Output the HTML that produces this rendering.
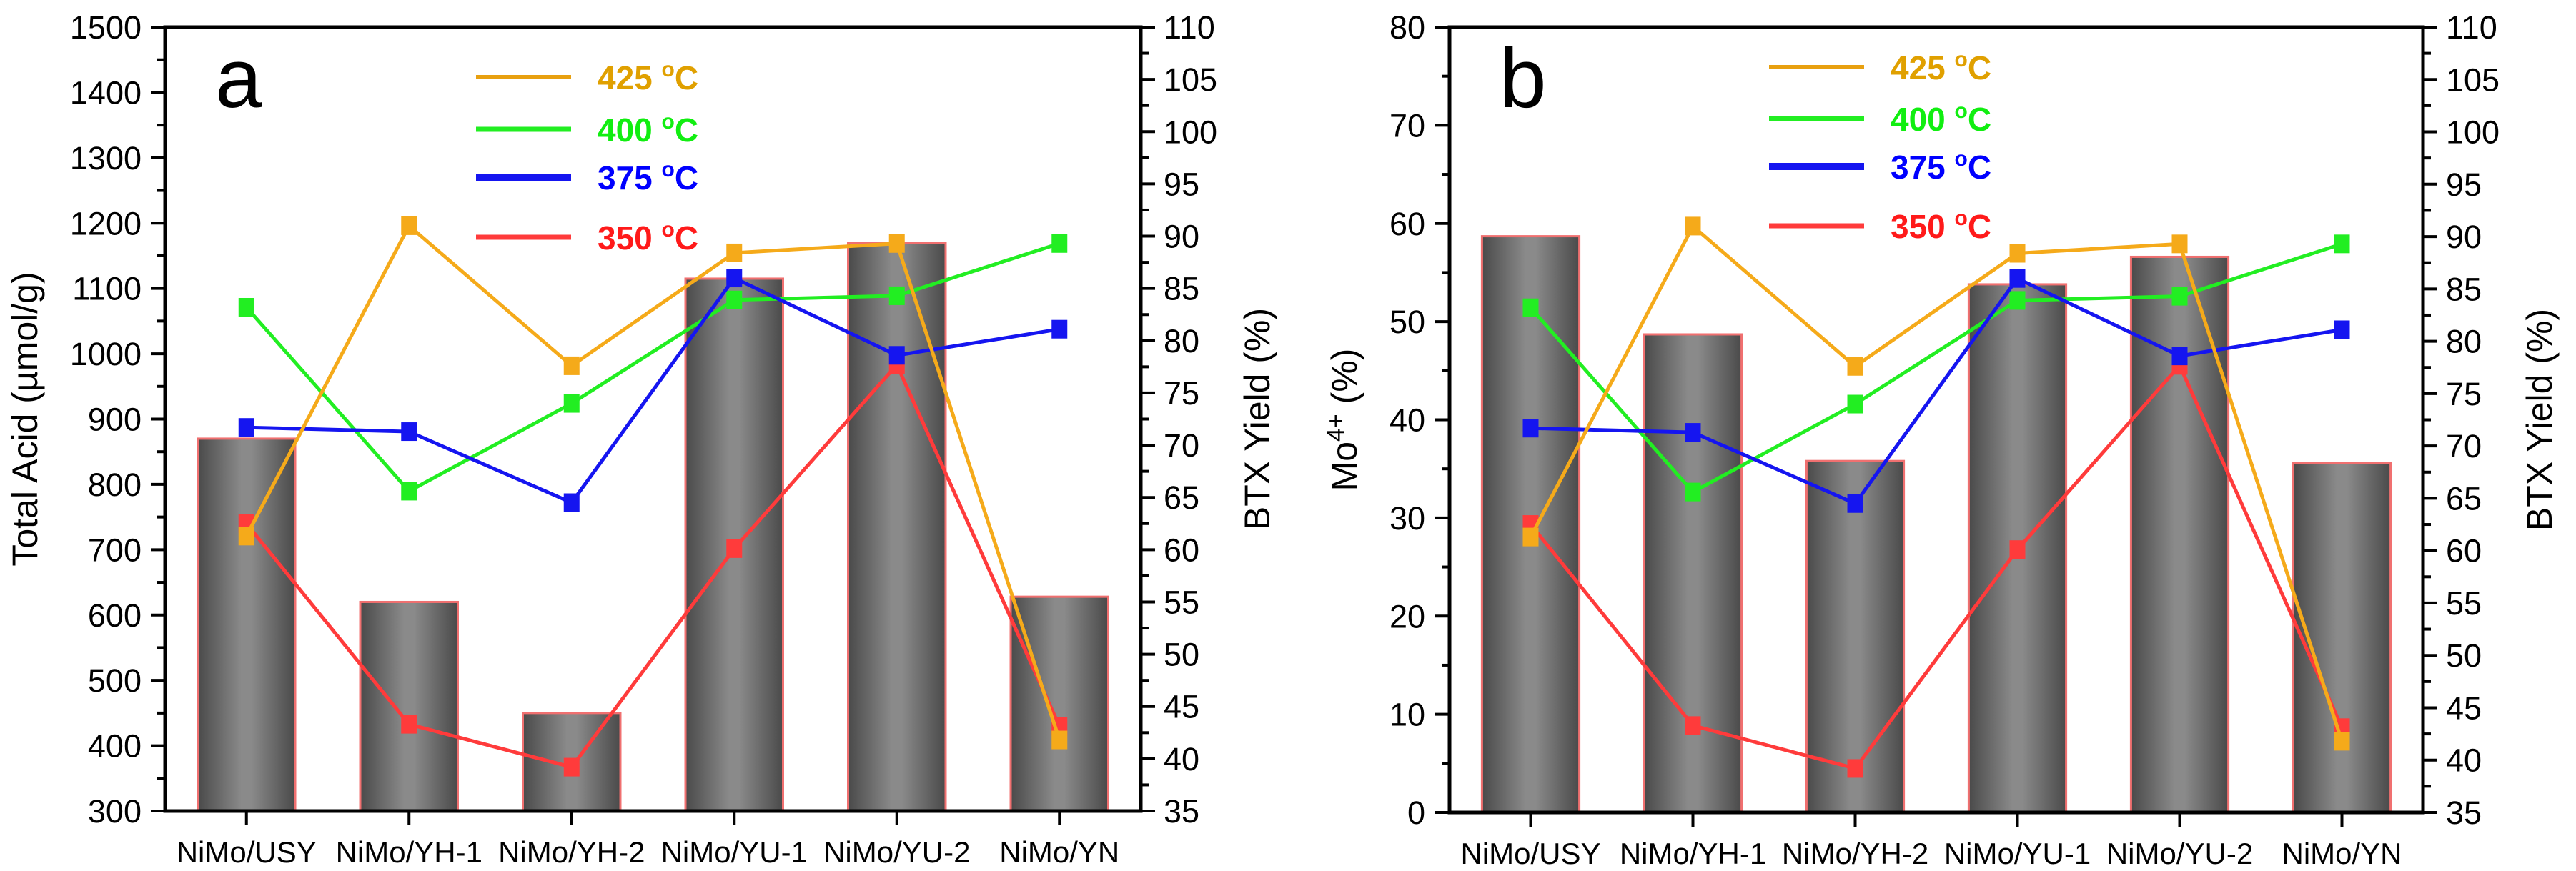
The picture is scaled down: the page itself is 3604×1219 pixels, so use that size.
<!DOCTYPE html>
<html><head><meta charset="utf-8"><style>
html,body{margin:0;padding:0;background:#fff;}
svg{display:block;font-family:"Liberation Sans",Arial,sans-serif;}
</style></head><body>
<svg id="chart" width="3604" height="1219" viewBox="0 0 3604 1219" xmlns="http://www.w3.org/2000/svg">
<defs>
<linearGradient id="barGrad" x1="0" x2="1" y1="0" y2="0">
<stop offset="0" stop-color="#4a4a4a"/><stop offset="0.45" stop-color="#8a8a8a"/><stop offset="0.55" stop-color="#8a8a8a"/><stop offset="1" stop-color="#4a4a4a"/>
</linearGradient>
</defs>
</svg>
<script>
const categories = ["NiMo/USY","NiMo/YH-1","NiMo/YH-2","NiMo/YU-1","NiMo/YU-2","NiMo/YN"];
const totalAcid = [870, 620, 450, 1115, 1170, 628];
const mo4 = [58.7, 48.7, 35.8, 53.8, 56.6, 35.6];
const btx425 = [61.3, 91.0, 77.6, 88.4, 89.3, 41.8];
const btx400 = [83.2, 65.6, 74.0, 83.9, 84.3, 89.3];
const btx375 = [71.7, 71.3, 64.5, 86.0, 78.6, 81.1];
const btx350 = [62.5, 43.3, 39.2, 60.1, 77.7, 43.1];
const leftTicksA = [300,400,500,600,700,800,900,1000,1100,1200,1300,1400,1500];
const leftTicksB = [0,10,20,30,40,50,60,70,80];
const rightTicks = [35,40,45,50,55,60,65,70,75,80,85,90,95,100,105,110];

const NS="http://www.w3.org/2000/svg";
const svg=document.getElementById('chart');
function el(tag,attrs,parent){const e=document.createElementNS(NS,tag);for(const k in attrs)e.setAttribute(k,attrs[k]);(parent||svg).appendChild(e);return e;}

const series=[
 {key:"350",vals:btx350,color:"#ff3b3b",lw:5},
 {key:"400",vals:btx400,color:"#22ee22",lw:5},
 {key:"375",vals:btx375,color:"#1515f0",lw:5},
 {key:"425",vals:btx425,color:"#f5aa1a",lw:5}
];
const legendOrder=[
 {key:"425",color:"#e8a010",text:"#e0a000",lw:6},
 {key:"400",color:"#22ee22",text:"#11ee11",lw:7},
 {key:"375",color:"#1515f0",text:"#0000ff",lw:10},
 {key:"350",color:"#ff3b3b",text:"#ff1a1a",lw:7}
];

function panel(cfg){
 const g=el('g',{});
 
 
 const L=cfg.L,R=cfg.R,T=cfg.T,B=cfg.B;
 const W=R-L,band=W/categories.length;
 const xc=i=>L+(i+0.5)*band;
 const yl=v=>B-(v-cfg.lmin)/(cfg.lmax-cfg.lmin)*(B-T);
 const yr=v=>B-(v-35)/(110-35)*(B-T);
 cfg.bars.forEach((v,i)=>{
  const bw=band*0.6;
  const r=el('rect',{x:xc(i)-bw/2,y:yl(v),width:bw,height:B-yl(v),fill:'url(#barGrad)',stroke:'#f07070','stroke-width':3},g);
  
  
 });
 series.forEach(s=>{
  const pts=s.vals.map((v,i)=>xc(i)+','+yr(v)).join(' ');
  const pl=el('polyline',{points:pts,fill:'none',stroke:s.color,'stroke-width':s.lw},g);
  
  
  s.vals.forEach((v,i)=>{
   const m=el('rect',{x:xc(i)-11,y:yr(v)-13,width:22,height:26,fill:s.color},g);
   
   
  });
 });
 const ax=el('rect',{x:L,y:T,width:W,height:B-T,fill:'none',stroke:'#000','stroke-width':5},g);
 
 
 cfg.lticks.forEach((v,i)=>{
  const y=yl(v);
  el('line',{x1:L-20,x2:L,y1:y,y2:y,stroke:'#000','stroke-width':4},g);
  if(i<cfg.lticks.length-1){const ym=yl(v+cfg.lstep/2);el('line',{x1:L-11,x2:L,y1:ym,y2:ym,stroke:'#000','stroke-width':4},g);}
  const t=el('text',{x:cfg.lLabX,y:y+16,'text-anchor':'end','font-size':45,fill:'#000'},g);
  t.textContent=v;
  
  
 });
 rightTicks.forEach((v,i)=>{
  const y=yr(v);
  el('line',{x1:R,x2:R+20,y1:y,y2:y,stroke:'#000','stroke-width':4},g);
  if(i<rightTicks.length-1){const ym=yr(v+2.5);el('line',{x1:R,x2:R+11,y1:ym,y2:ym,stroke:'#000','stroke-width':4},g);}
  const t=el('text',{x:R+32,y:y+16,'font-size':45,fill:'#000'},g);
  t.textContent=v;
  
  
 });
 categories.forEach((c,i)=>{
  el('line',{x1:xc(i),x2:xc(i),y1:B,y2:B+20,stroke:'#000','stroke-width':4},g);
  const t=el('text',{x:xc(i),y:B+72,'text-anchor':'middle','font-size':42,fill:'#000'},g);
  t.textContent=c;
  
  
 });
 const lt=el('text',{x:cfg.ltX,y:(T+B)/2,'text-anchor':'middle','font-size':50,fill:'#000',transform:`rotate(-90 ${cfg.ltX} ${(T+B)/2})`},g);
 
 
 lt.innerHTML=cfg.ltitle;
 const rtX=R+180;
 const rt=el('text',{x:rtX,y:(T+B)/2,'text-anchor':'middle','font-size':50,fill:'#000',transform:`rotate(-90 ${rtX} ${(T+B)/2})`},g);
 rt.textContent='BTX Yield (%)';
 
 
 const pl=el('text',{x:L+70,y:T+112,'font-size':118,fill:'#000'},g);
 pl.textContent=cfg.letter;
 
 
 legendOrder.forEach((s,i)=>{
  const y=cfg.legY[i];
  el('line',{x1:cfg.legX,x2:cfg.legX+133,y1:y,y2:y,stroke:s.color,'stroke-width':s.lw},g);
  const t=el('text',{x:cfg.legX+170,y:y+17,'font-size':46,'font-weight':'bold',fill:s.text},g);
  t.innerHTML=s.key+' <tspan font-size="30" dy="-18">o</tspan><tspan dy="18">C</tspan>';
  
  
 });
}
panel({letter:'a',L:231,R:1596,T:38,B:1135,lmin:300,lmax:1500,lstep:100,lticks:leftTicksA,bars:totalAcid,lLabX:198,ltX:52,
 ltitle:'Total Acid (µmol/g)',legX:666,legY:[108,181,248,332]});
panel({letter:'b',L:2028,R:3390,T:38,B:1137,lmin:0,lmax:80,lstep:10,lticks:leftTicksB,bars:mo4,lLabX:1994,ltX:1898,
 ltitle:'Mo<tspan font-size="34" dy="-18">4+</tspan><tspan dy="18"> (%)</tspan>',legX:2475,legY:[94,166,233,316]});
</script>
</body></html>
